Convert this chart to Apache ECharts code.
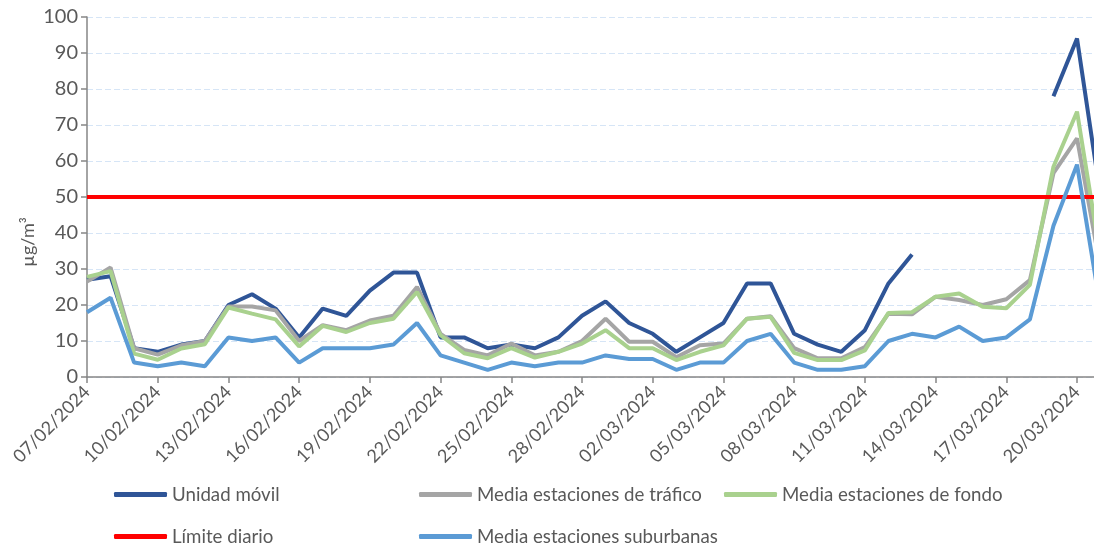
<!DOCTYPE html>
<html lang="es">
<head>
    <meta charset="UTF-8">
    <title>Unidad móvil</title>
    <script src="https://cdn.jsdelivr.net/npm/echarts@6/dist/echarts.min.js"></script>
    <style>
        html, body { margin: 0; padding: 0; background: #fff; }
    </style>
</head>
<body>

<div id="main" style="width:1094px; height:545px;"></div>

<script>
    // fechas (la última queda cortada por el borde derecho)
    var fechas = [
        '07/02/2024', '08/02/2024', '09/02/2024', '10/02/2024', '11/02/2024', '12/02/2024',
        '13/02/2024', '14/02/2024', '15/02/2024', '16/02/2024', '17/02/2024', '18/02/2024',
        '19/02/2024', '20/02/2024', '21/02/2024', '22/02/2024', '23/02/2024', '24/02/2024',
        '25/02/2024', '26/02/2024', '27/02/2024', '28/02/2024', '29/02/2024', '01/03/2024',
        '02/03/2024', '03/03/2024', '04/03/2024', '05/03/2024', '06/03/2024', '07/03/2024',
        '08/03/2024', '09/03/2024', '10/03/2024', '11/03/2024', '12/03/2024', '13/03/2024',
        '14/03/2024', '15/03/2024', '16/03/2024', '17/03/2024', '18/03/2024', '19/03/2024',
        '20/03/2024', '21/03/2024'
    ];

    var unidadMovil = [27, 28, 8, 7, 9, 10, 20, 23, 19, 11, 19, 17, 24, 29, 29, 11, 11, 8, 9, 8, 11, 17,
        21, 15, 12, 7, 11, 15, 26, 26, 12, 9, 7, 13, 26, 34, null, null, null, null, null, 78, 94, 50];

    var trafico = [26.5, 30.4, 8, 6.2, 8.8, 10, 19.6, 19.6, 18.5, 10, 14.4, 13, 15.7, 17, 25, 12, 7.5, 6,
        9.3, 6, 7, 10, 16.2, 9.8, 9.8, 5.5, 8.8, 9.3, 16.2, 16.9, 8, 5.2, 5.2, 8.3, 17.6, 17.4, 22.3,
        21.4, 20, 21.6, 26.9, 56.6, 66.3, 30];

    var fondo = [27.8, 29.4, 6.5, 4.8, 7.9, 9.1, 19.3, 17.6, 16, 8.5, 14.2, 12.5, 15, 16.2, 23.6, 11.6,
        6.6, 5.2, 8, 5.4, 7, 9.3, 13, 8, 8, 4.7, 7, 8.8, 16.2, 16.7, 6.7, 4.7, 4.7, 7.4, 17.8, 18, 22.3,
        23.2, 19.5, 19.1, 25.6, 58.4, 73.7, 33];

    var limite = [50, 50, 50, 50, 50, 50, 50, 50, 50, 50, 50, 50, 50, 50, 50, 50, 50, 50, 50, 50, 50, 50,
        50, 50, 50, 50, 50, 50, 50, 50, 50, 50, 50, 50, 50, 50, 50, 50, 50, 50, 50, 50, 50, 50];

    var suburbanas = [18, 22, 4, 3, 4, 3, 11, 10, 11, 4, 8, 8, 8, 9, 15, 6, 4, 2, 4, 3, 4, 4, 6, 5, 5, 2,
        4, 4, 10, 12, 4, 2, 2, 3, 10, 12, 11, 14, 10, 11, 16, 42, 59, 19];

    var ticksY = [0, 10, 20, 30, 40, 50, 60, 70, 80, 90, 100];

    var texto = '#595959';
    var fuente = 'Lato';

    // el eje x es un índice de día; el gráfico termina a 3/4 del 20/03 al 21/03
    function pares(datos) {
        return datos.map(function (v, i) { return [i, v]; });
    }

    function serie(nombre, datos, color) {
        return {
            name: nombre,
            type: 'line',
            data: pares(datos),
            showSymbol: false,
            symbol: 'none',
            connectNulls: false,
            clip: true,
            lineStyle: { width: 4, color: color },
            itemStyle: { color: color },
            emphasis: { disabled: true }
        };
    }

    function leyenda(nombre, left, top) {
        return {
            data: [nombre],
            left: left,
            top: top,
            padding: 0,
            icon: 'roundRect',
            itemWidth: 53,
            itemHeight: 5,
            selectedMode: false,
            textStyle: { color: texto, fontSize: 18.7, fontFamily: fuente }
        };
    }

    var chart = echarts.init(document.getElementById('main'));
    chart.setOption({
        backgroundColor: '#fff',
        animation: false,
        grid: { left: 87, top: 17, right: 0, height: 360, containLabel: false },
        xAxis: {
            type: 'value',
            min: 0,
            max: 42.72,
            interval: 3,
            axisLine: { lineStyle: { color: '#868686', width: 1.5 } },
            axisTick: { length: 6, lineStyle: { color: '#868686', width: 1.5 } },
            axisLabel: {
                rotate: 45,
                margin: 12,
                showMaxLabel: false,
                color: texto,
                fontSize: 18,
                fontFamily: fuente,
                formatter: function (v) { return fechas[v] || ''; }
            },
            splitLine: { show: false }
        },
        yAxis: {
            type: 'value',
            min: ticksY[0],
            max: ticksY[ticksY.length - 1],
            interval: 10,
            axisLine: { show: true, lineStyle: { color: '#868686', width: 1.5 } },
            axisTick: { show: true, length: 6, lineStyle: { color: '#868686', width: 1.5 } },
            axisLabel: { color: texto, fontSize: 20, fontFamily: fuente, margin: 9 },
            splitLine: { lineStyle: { color: '#d6e5f6', type: [6, 3], width: 1.2 } }
        },
        graphic: [{
            type: 'text',
            x: 28,
            y: 242,
            rotation: Math.PI / 2,
            style: {
                text: 'µg/m³',
                fill: texto,
                font: '18px Lato',
                align: 'center',
                verticalAlign: 'middle'
            }
        }],
        legend: [
            leyenda('Unidad móvil', 114, 485),
            leyenda('Media estaciones de tráfico', 419, 485),
            leyenda('Media estaciones de fondo', 724, 485),
            leyenda('Límite diario', 114, 527),
            leyenda('Media estaciones suburbanas', 419, 527)
        ],
        series: [
            serie('Unidad móvil', unidadMovil, '#2f5597'),
            serie('Media estaciones de tráfico', trafico, '#a5a5a5'),
            serie('Media estaciones de fondo', fondo, '#a9d18e'),
            serie('Límite diario', limite, '#ff0000'),
            serie('Media estaciones suburbanas', suburbanas, '#5b9bd5')
        ]
    });
</script>
</body>
</html>
